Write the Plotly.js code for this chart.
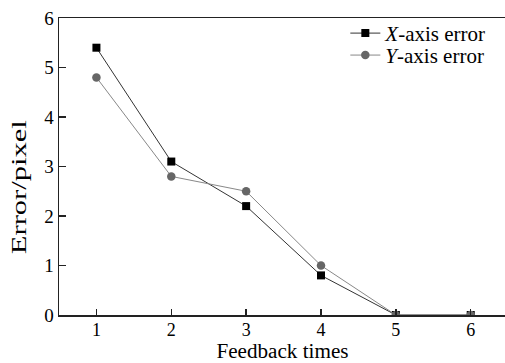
<!DOCTYPE html>
<html>
<head>
<meta charset="utf-8">
<script src="https://cdn.plot.ly/plotly-3.0.1.min.js"></script>
<style>
html, body { margin: 0; padding: 0; background: #fff; overflow: hidden; }
#chart { width: 505px; height: 363px; }
</style>
</head>
<body>
<div id="chart"></div>
<script>
const feedbackTimes = [1, 2, 3, 4, 5, 6];
const xAxisError = [5.4, 3.1, 2.2, 0.8, 0, 0];
const yAxisError = [4.8, 2.8, 2.5, 1.0, 0, 0];
const xTickLabels = ['1', '2', '3', '4', '5', '6'];
const yTickValues = [0, 1, 2, 3, 4, 5, 6];

const serif = '"Liberation Serif", "Times New Roman", serif';

const traces = [
  {
    x: feedbackTimes, y: xAxisError, type: 'scatter', mode: 'lines+markers',
    name: '<i>X</i>-axis error',
    line: {color: '#333333', width: 1},
    marker: {symbol: 'square', size: 8, color: '#000000'},
    legend: 'legend'
  },
  {
    x: feedbackTimes, y: yAxisError, type: 'scatter', mode: 'lines+markers',
    name: '<i>Y</i>-axis error',
    line: {color: '#888888', width: 1},
    marker: {symbol: 'circle', size: 8.5, color: '#666666'},
    legend: 'legend2'
  }
];

const legendCommon = {
  font: {family: serif, size: 21, color: '#000'},
  bgcolor: 'rgba(0,0,0,0)', borderwidth: 0,
  xanchor: 'left', yanchor: 'middle', itemwidth: 30
};

const layout = {
  width: 505, height: 363,
  margin: {l: 59, r: 0, t: 18, b: 48},
  paper_bgcolor: '#fff', plot_bgcolor: '#fff',
  font: {family: serif, color: '#000'},
  showlegend: true,
  legend: Object.assign({x: 0.642, y: 0.948}, legendCommon),
  legend2: Object.assign({x: 0.642, y: 0.874}, legendCommon),
  xaxis: {
    range: [0.5, 6.458],
    tickvals: feedbackTimes, ticktext: xTickLabels,
    ticks: 'inside', ticklen: 6, tickwidth: 1.5, tickcolor: '#222',
    ticklabelstandoff: -2,
    showline: true, linecolor: '#222', linewidth: 1.5, mirror: true,
    showgrid: false, zeroline: false,
    tickfont: {family: serif, size: 18, color: '#000'}
  },
  yaxis: {
    range: [0, 6],
    tickvals: yTickValues,
    ticks: 'inside', ticklen: 7, tickwidth: 1.5, tickcolor: '#222',
    showline: true, linecolor: '#222', linewidth: 1.5,
    showgrid: false, zeroline: false,
    tickfont: {family: serif, size: 19, color: '#000'}
  },
  annotations: [
    {
      text: 'Error/pixel', xref: 'paper', yref: 'paper',
      x: -0.088, y: 0.43, xanchor: 'center', yanchor: 'middle',
      textangle: -90, showarrow: false, borderpad: 0,
      font: {family: serif, size: 20, color: '#000'}
    },
    {
      text: 'Feedback times', xref: 'paper', yref: 'paper',
      x: 0.5, y: -0.1616, xanchor: 'center', yanchor: 'bottom',
      showarrow: false, borderpad: 0,
      font: {family: serif, size: 20, color: '#000'}
    }
  ]
};

Plotly.newPlot('chart', traces, layout, {displayModeBar: false, staticPlot: true}).then(function () {
  // the reference's y title is stretched along its reading direction
  const t = document.querySelectorAll('.annotation-text')[0];
  if (t) {
    t.setAttribute('textLength', '134');
    t.setAttribute('lengthAdjust', 'spacingAndGlyphs');
  }
  // widen the x title to the reference's width
  const t2 = document.querySelectorAll('.annotation-text')[1];
  if (t2) {
    t2.setAttribute('textLength', '132');
    t2.setAttribute('lengthAdjust', 'spacingAndGlyphs');
  }
});
</script>
</body>
</html>
